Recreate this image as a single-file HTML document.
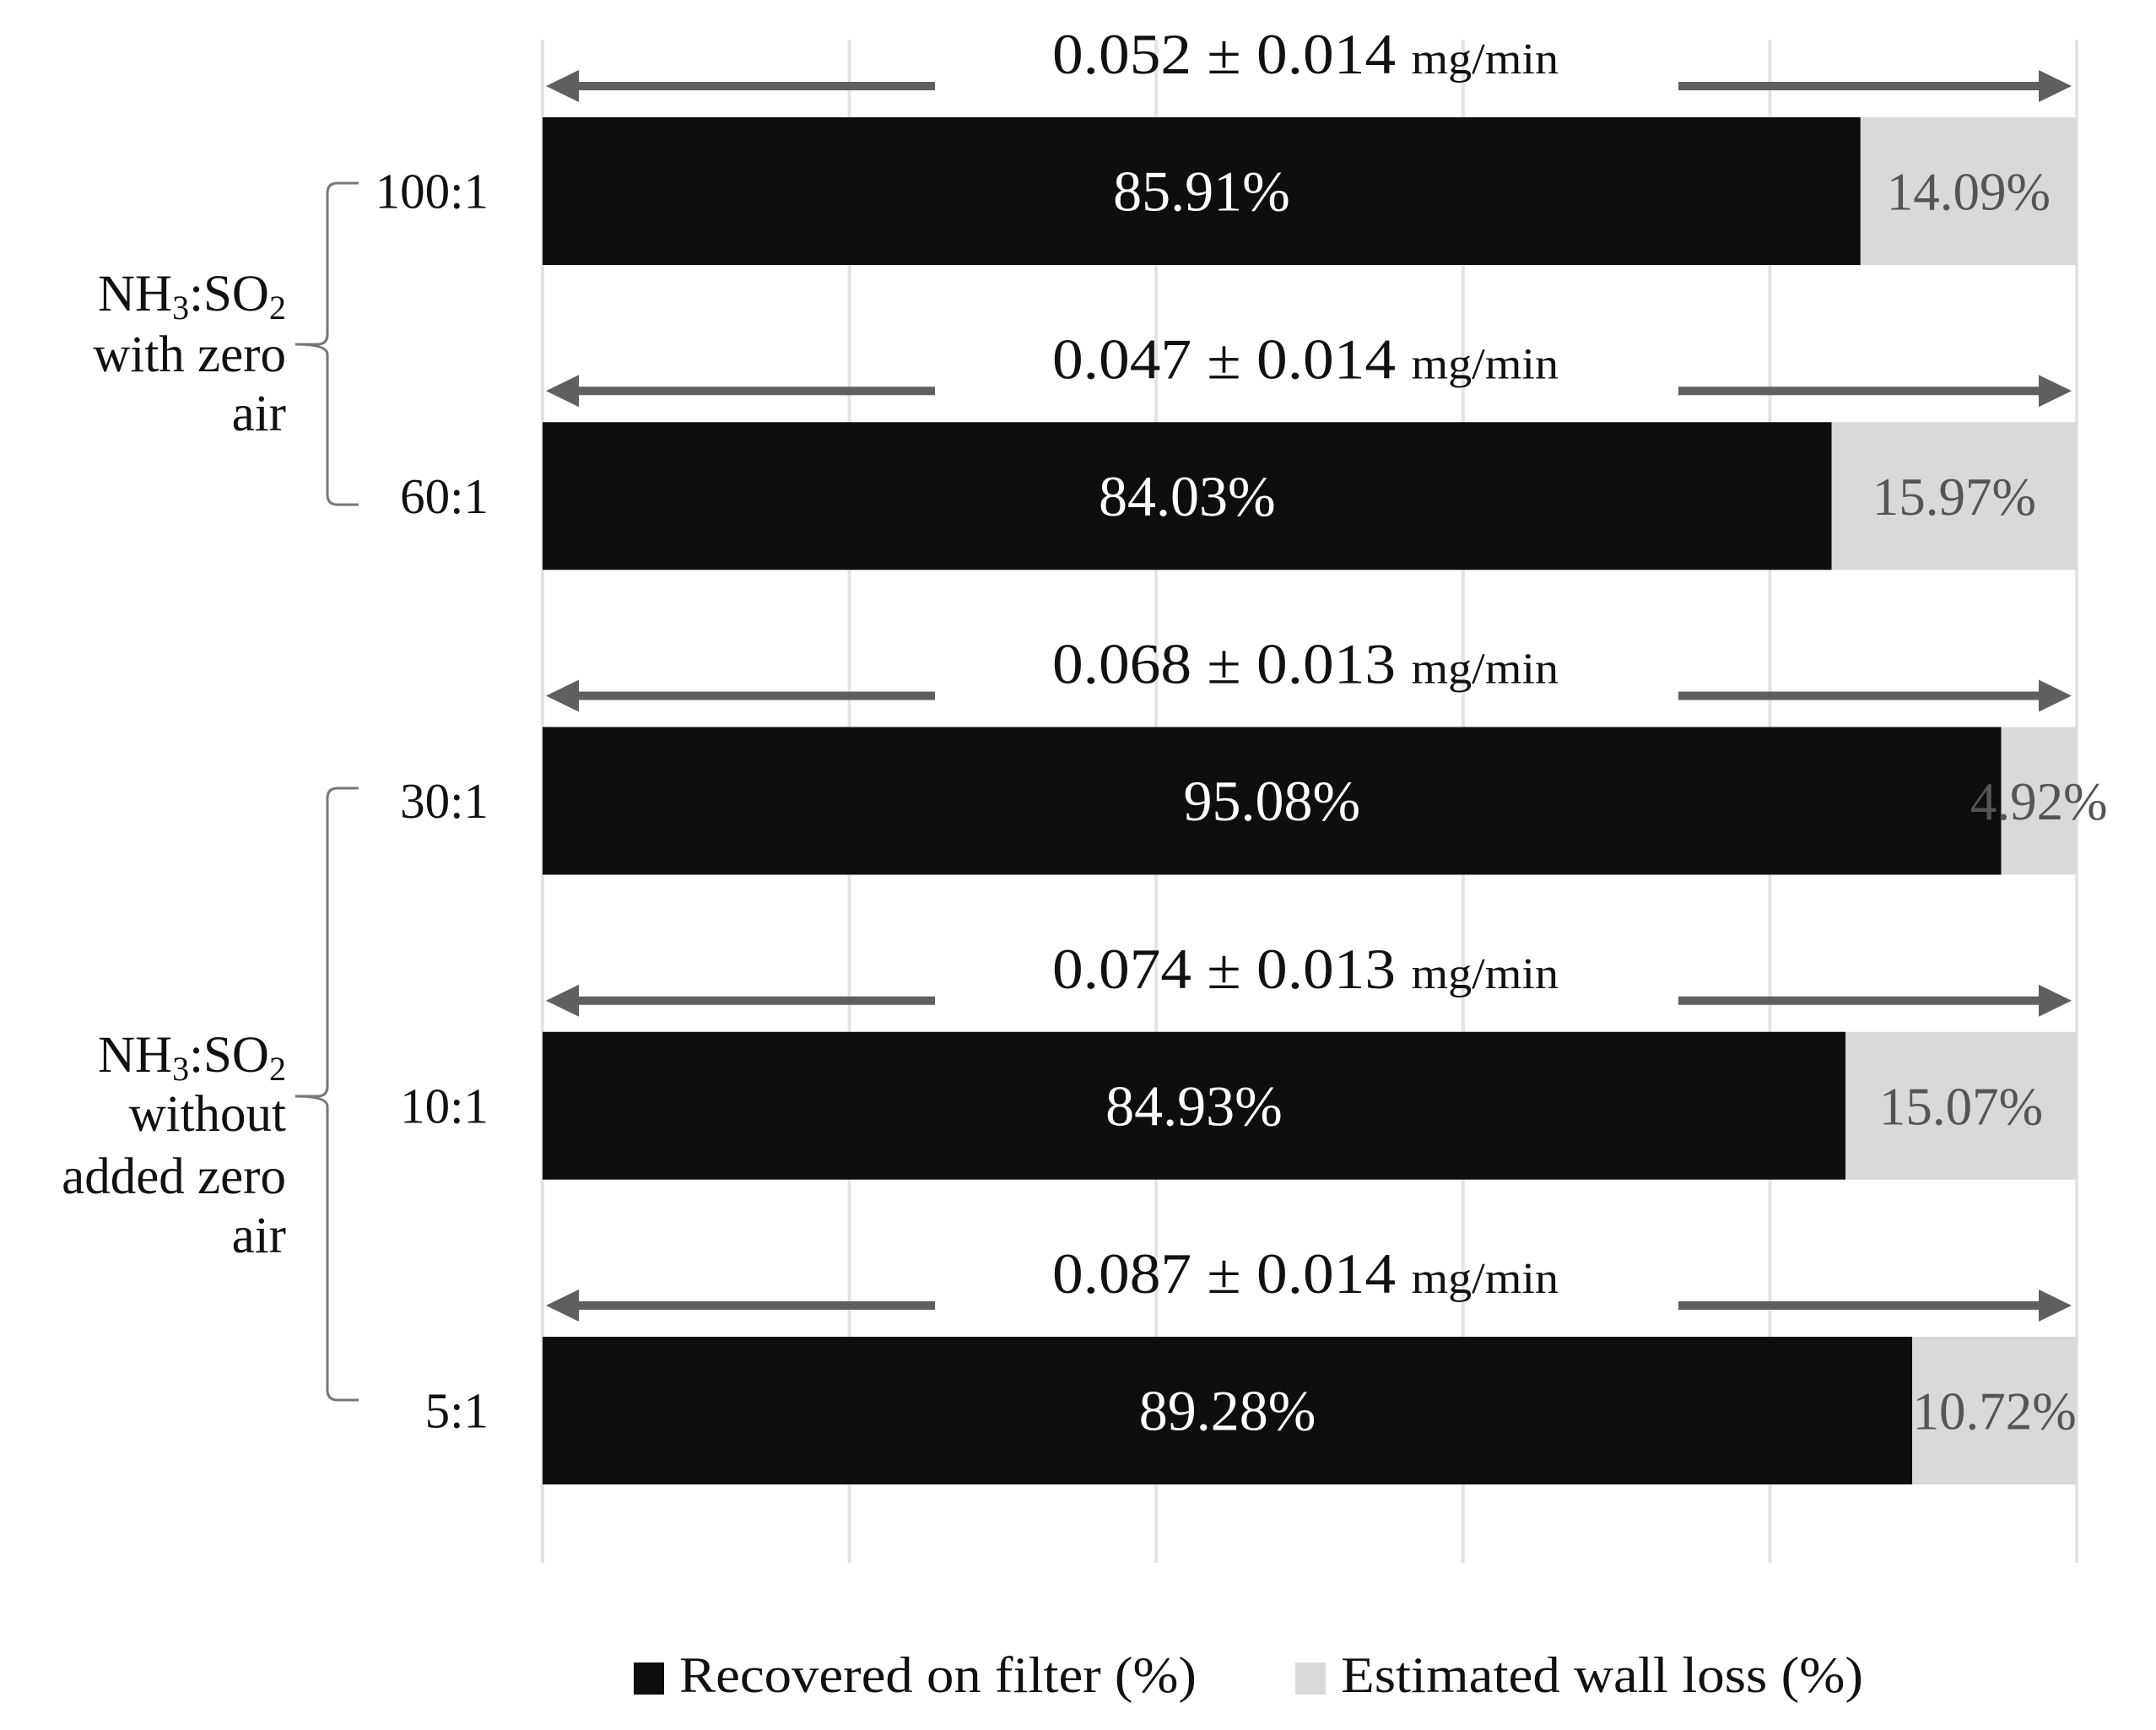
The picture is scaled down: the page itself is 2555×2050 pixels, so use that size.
<!DOCTYPE html>
<html><head><meta charset="utf-8"><style>
html,body{margin:0;padding:0;background:#fff}
svg{display:block}
text{font-family:"Liberation Serif",serif}
</style></head><body>
<svg id="chart" width="2555" height="2050" viewBox="0 0 2555 2050" xmlns="http://www.w3.org/2000/svg">
<g id="grid"></g>
<g id="bars"></g>
<g id="cats"></g>
<g id="groups">
  <path d="M425,217 L400,217 Q388,217 388,229 L388,396 Q388,408 376,408 L350,408 Q388,408 388,420 L388,586 Q388,598 400,598 L425,598" fill="none" stroke="#777" stroke-width="3"/>
  <text text-anchor="end" font-size="61" fill="#111"><tspan x="339" y="368">NH<tspan font-size="40" dy="10">3</tspan><tspan dy="-10">:SO</tspan><tspan font-size="40" dy="10">2</tspan></tspan><tspan x="339" y="440">with zero</tspan><tspan x="339" y="510">air</tspan></text>
  <path d="M425,934 L400,934 Q388,934 388,946 L388,1287 Q388,1299 376,1299 L350,1299 Q388,1299 388,1311 L388,1647 Q388,1659 400,1659 L425,1659" fill="none" stroke="#777" stroke-width="3"/>
  <text text-anchor="end" font-size="61" fill="#111"><tspan x="339" y="1270">NH<tspan font-size="40" dy="10">3</tspan><tspan dy="-10">:SO</tspan><tspan font-size="40" dy="10">2</tspan></tspan><tspan x="339" y="1340">without</tspan><tspan x="339" y="1414">added zero</tspan><tspan x="339" y="1484">air</tspan></text>
</g>
<g id="legend">
  <rect x="751" y="1970" width="36" height="38" fill="#0e0e0e"/>
  <text x="805" y="2005" font-size="60" fill="#111" textLength="613" lengthAdjust="spacingAndGlyphs">Recovered on filter (%)</text>
  <rect x="1535" y="1970" width="36" height="38" fill="#d9d9d9"/>
  <text x="1589" y="2005" font-size="60" fill="#111" textLength="619" lengthAdjust="spacingAndGlyphs">Estimated wall loss (%)</text>
</g>
</svg>
<script>
const categories = ["100:1","60:1","30:1","10:1","5:1"];
const recovered = [85.91,84.03,95.08,84.93,89.28];
const wallLoss = [14.09,15.97,4.92,15.07,10.72];
const rateMean = ["0.052","0.047","0.068","0.074","0.087"];
const rateErr = ["0.014","0.014","0.013","0.013","0.014"];
const xTicks = [0,20,40,60,80,100];

const NS="http://www.w3.org/2000/svg";
const x0=643, x1=2461, rowTop=139, pitch=361.25, barH=175;
const xs = v => x0 + (x1-x0)*v/100;
const rowY = i => rowTop + i*pitch;
function mk(tag, attrs, parent){const e=document.createElementNS(NS,tag);for(const k in attrs)e.setAttribute(k,attrs[k]);parent.appendChild(e);return e;}
const grid=document.getElementById('grid'), bars=document.getElementById('bars'), cats=document.getElementById('cats');

xTicks.forEach(t=>{
  const l=mk('line',{x1:xs(t),x2:xs(t),y1:47,y2:1852,stroke:'#e3e3e3','stroke-width':4},grid);
  
  
});

categories.forEach((c,i)=>{
  const y=rowY(i), cy=y+barH/2;
  const g=mk('g',{},bars);
  
  
  const r1=mk('rect',{x:xs(0),y:y,width:xs(recovered[i])-xs(0),height:barH,fill:'#0e0e0e'},g);
  
  
  const r2=mk('rect',{x:xs(recovered[i]),y:y,width:xs(recovered[i]+wallLoss[i])-xs(recovered[i]),height:barH,fill:'#d9d9d9'},g);
  
  
  const t1=mk('text',{x:(xs(0)+xs(recovered[i]))/2,y:cy+23,'text-anchor':'middle','font-size':68,fill:'#fff'},g);
  t1.textContent=recovered[i].toFixed(2)+'%';
  
  
  const mid2=(xs(recovered[i])+xs(recovered[i]+wallLoss[i]))/2;
  const t2=mk('text',{x:mid2,y:cy+22,'text-anchor':'middle','font-size':63,fill:'#555'},g);
  t2.textContent=wallLoss[i].toFixed(2)+'%';
  
  
  const ay=y-37;
  const a1=mk('path',{d:`M1108,${ay-5} L686,${ay-5} L686,${ay-19} L647,${ay} L686,${ay+19} L686,${ay+5} L1108,${ay+5} Z`,fill:'#5f5f5f'},g);
  
  
  const a2=mk('path',{d:`M1989,${ay-5} L2416,${ay-5} L2416,${ay-19} L2455,${ay} L2416,${ay+19} L2416,${ay+5} L1989,${ay+5} Z`,fill:'#5f5f5f'},g);
  
  
  const rt=mk('text',{x:1547,y:y-52,'text-anchor':'middle','font-size':68,fill:'#111',textLength:600,lengthAdjust:'spacingAndGlyphs'},g);
  
  
  rt.appendChild(document.createTextNode(rateMean[i]+' \u00b1 '+rateErr[i]+' '));
  const ts=mk('tspan',{'font-size':52},rt);
  ts.textContent='mg/min';
  const cl=mk('text',{x:579,y:cy+20,'text-anchor':'end','font-size':59,fill:'#111'},cats);
  cl.textContent=c;
  
  
});
</script>
</body></html>
